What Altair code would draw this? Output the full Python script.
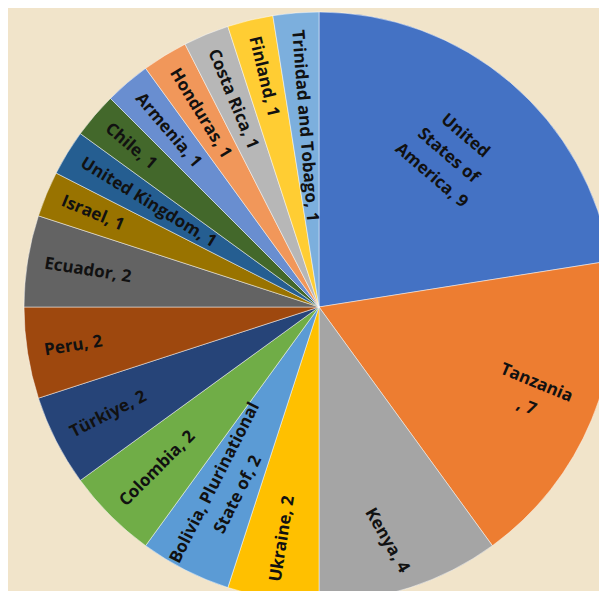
import math
import altair as alt
import numpy as np
import pandas as pd

# ---- data ----
countries = ["United States of America", "Tanzania", "Kenya", "Ukraine",
             "Bolivia, Plurinational State of", "Colombia", "Türkiye", "Peru",
             "Ecuador", "Israel", "United Kingdom", "Chile", "Armenia",
             "Honduras", "Costa Rica", "Finland", "Trinidad and Tobago"]
counts = [9, 7, 4, 2, 2, 2, 2, 2, 2, 1, 1, 1, 1, 1, 1, 1, 1]
colors = ["#4472C4", "#ED7D31", "#A5A5A5", "#FFC000", "#5B9BD5", "#70AD47",
          "#264478", "#9E480E", "#636363", "#997300", "#255E91", "#43682B",
          "#698ED0", "#F1975A", "#B7B7B7", "#FFCD33", "#7CAFDD"]
# label text as wrapped in the reference
wrapped = {
    "United States of America": "United\nStates of\nAmerica",
    "Tanzania": "Tanzania\n",
    "Bolivia, Plurinational State of": "Bolivia, Plurinational\nState of",
}

# ---- layout ----
CX, CY = 311, 299          # pie centre inside the view
R_OUT = 295
R_LABEL = 278              # inside-end anchor for single-line labels
LH = 26                    # line height of wrapped labels
multi_radius = {"United States of America": 199, "Tanzania": 230,
                "Bolivia, Plurinational State of": 204}
angle_override = {"Kenya": 60}

total = sum(counts)
cnt = np.array(counts, dtype=float)
end = np.cumsum(cnt)
start = end - cnt
mid = start + cnt / 2
mid_deg = mid / total * 360

labels, angs, rads, grps = [], [], [], []
for name, c, md in zip(countries, counts, mid_deg):
    lab = f"{wrapped.get(name, name)}, {c}"
    labels.append(lab)
    a = md - 90 if md < 180 else md + 90
    if name == "United States of America":
        a = md  # tangential in the reference
    a = angle_override.get(name, a) % 360
    angs.append(a)
    if name in multi_radius:
        rads.append(multi_radius[name])
        grps.append(f"multi{lab.count(chr(10)) + 1}")
    else:
        rads.append(R_LABEL); grps.append("right" if md < 180 else "left")

df = pd.DataFrame({"country": countries, "count": counts, "start": start,
                   "end": end, "mid": mid, "label": labels, "ang": angs,
                   "r": rads, "grp": grps})

theta_scale = alt.Scale(domain=[0, total], range=[0, 2 * math.pi])

arcs = alt.Chart(df).mark_arc(radius=R_OUT, stroke="white", strokeWidth=0.8,
                              strokeOpacity=0.6).encode(
    theta=alt.Theta("start:Q", scale=theta_scale, stack=None),
    theta2="end:Q",
    color=alt.Color("country:N", scale=alt.Scale(domain=countries, range=colors),
                    legend=None),
    x=alt.value(CX), y=alt.value(CY),
)

def text_layer(group, align, dy=0):
    return alt.Chart(df).transform_filter(alt.datum.grp == group).mark_text(
        align=align, baseline="middle", font="Open Sans", fontWeight="bold",
        fontSize=17, color="#111111", lineBreak="\n", lineHeight=LH, dy=dy,
    ).encode(
        theta=alt.Theta("mid:Q", scale=theta_scale, stack=None),
        radius=alt.Radius("r:Q", scale=None),
        angle=alt.Angle("ang:Q", scale=None),
        text="label:N",
        x=alt.value(CX), y=alt.value(CY),
    )

chart = alt.layer(
    arcs,
    text_layer("right", "right"),
    text_layer("left", "left"),
    text_layer("multi2", "center", dy=-LH / 2),
    text_layer("multi3", "center", dy=-LH),
).properties(
    width=591, height=583, padding=0, autosize="none", background="#F1E4CA",
).configure_view(stroke=None)

chart.save("out.html", embed_options={"renderer": "svg", "actions": False})
